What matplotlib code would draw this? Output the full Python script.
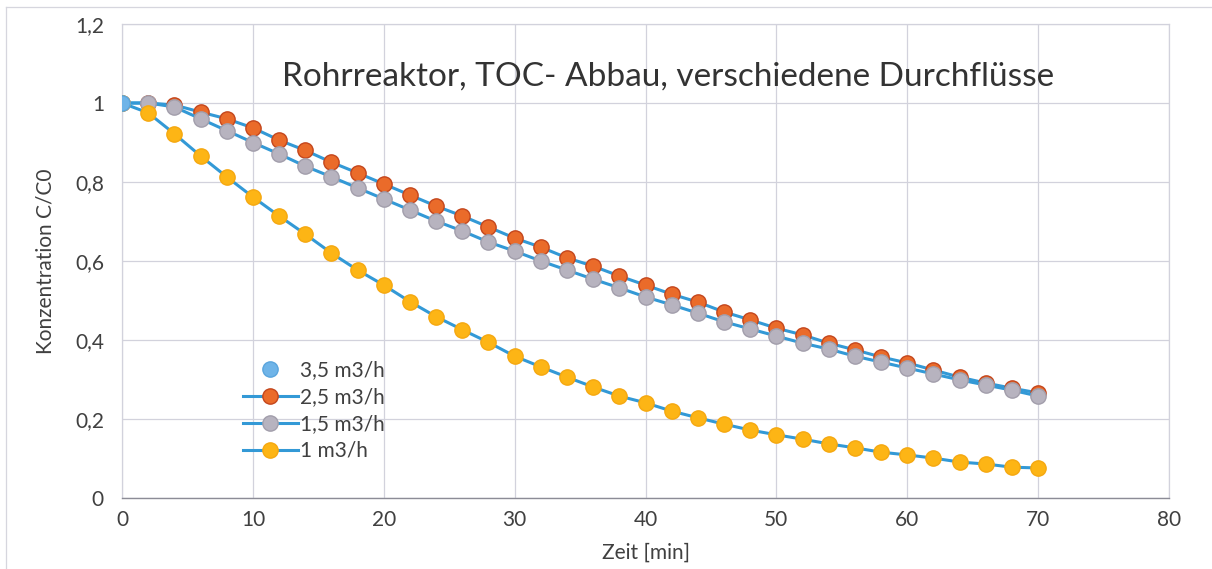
import matplotlib
matplotlib.use('agg')
import matplotlib.pyplot as plt
from matplotlib.lines import Line2D
from matplotlib.ticker import FuncFormatter, MultipleLocator

plt.rcParams['font.family'] = ['Lato', 'DejaVu Sans']

# Zeit in min, Messung alle 2 min
zeit = list(range(0, 72, 2))

# 3,5 m3/h: nur Startwert
zeit_35 = [0]
c_35 = [1.0]

c_25 = [1.0, 1.0, 0.995, 0.977, 0.96, 0.937, 0.906, 0.88, 0.85, 0.823, 0.795,
        0.767, 0.739, 0.714, 0.686, 0.658, 0.635, 0.608, 0.587, 0.562, 0.539,
        0.516, 0.496, 0.471, 0.451, 0.43, 0.413, 0.392, 0.375, 0.357, 0.342,
        0.324, 0.306, 0.291, 0.278, 0.266]

c_15 = [1.0, 1.0, 0.99, 0.96, 0.93, 0.90, 0.871, 0.84, 0.813, 0.785, 0.757,
        0.729, 0.701, 0.676, 0.648, 0.625, 0.60, 0.577, 0.554, 0.532, 0.509,
        0.489, 0.468, 0.446, 0.428, 0.41, 0.392, 0.377, 0.359, 0.344, 0.329,
        0.314, 0.299, 0.286, 0.273, 0.258]

c_1 = [1.0, 0.975, 0.922, 0.866, 0.813, 0.762, 0.714, 0.668, 0.62, 0.577, 0.539,
       0.497, 0.459, 0.426, 0.394, 0.359, 0.332, 0.306, 0.281, 0.258, 0.241,
       0.22, 0.203, 0.187, 0.172, 0.16, 0.149, 0.137, 0.127, 0.116, 0.109,
       0.101, 0.091, 0.086, 0.078, 0.076]

linie = '#3399d6'

fig = plt.figure(figsize=(12.12, 5.69), dpi=100)
ax = fig.add_axes([0.1007, 0.1248, 0.8638, 0.8330])

ax.plot(zeit, c_25, '-o', color=linie, lw=2.2, ms=11, mfc='#ea6b2a', mec='#c4461c',
        mew=1.0, label='2,5 m3/h', zorder=3)
ax.plot(zeit, c_15, '-o', color=linie, lw=2.2, ms=11, mfc='#b7b3bf', mec='#a29eab',
        mew=1.0, label='1,5 m3/h', zorder=3)
ax.plot(zeit, c_1, '-o', color=linie, lw=2.2, ms=11, mfc='#fdb515', mec='#f5a810',
        mew=1.0, label='1 m3/h', zorder=3)
ax.plot(zeit_35, c_35, 'o', ms=11, mfc='#6fb4e8', mec='#5aa5dd', mew=1.0,
        label='3,5 m3/h', zorder=4)

ax.set_xlim(0, 80)
ax.set_ylim(0, 1.2)
ax.xaxis.set_major_locator(MultipleLocator(10))
ax.yaxis.set_major_locator(MultipleLocator(0.2))
komma = FuncFormatter(lambda v, p: ('%g' % round(v, 2)).replace('.', ','))
ax.xaxis.set_major_formatter(komma)
ax.yaxis.set_major_formatter(komma)
ax.tick_params(length=0, labelsize=15, colors='#404040')
ax.tick_params(axis='y', pad=13)
ax.tick_params(axis='x', pad=9)

ax.grid(True, color='#d2d2dc', lw=0.9)
ax.set_axisbelow(True)
for s in ['top', 'right', 'left']:
    ax.spines[s].set_color('#d2d2dc')
    ax.spines[s].set_linewidth(0.9)
ax.spines['bottom'].set_color('#8c8c96')
ax.spines['bottom'].set_linewidth(1.0)

ax.set_xlabel('Zeit [min]', fontsize=15, color='#404040', labelpad=9)
ax.set_ylabel('Konzentration C/C0', fontsize=15, color='#404040', labelpad=14)

ax.text(0.522, 0.89, 'Rohrreaktor, TOC- Abbau, verschiedene Durchflüsse',
        transform=ax.transAxes, ha='center', va='center', fontsize=24, color='#333333')

handles, labels = ax.get_legend_handles_labels()
order = [3, 0, 1, 2]
ax.legend([handles[i] for i in order], [labels[i] for i in order],
          loc='upper left', bbox_to_anchor=(0.098, 0.33), frameon=False,
          fontsize=15, handlelength=2.6, handletextpad=0.1, labelspacing=0.33,
          labelcolor='#404040')

# Rahmen oben und links
fig.add_artist(Line2D([0.005, 1.0], [0.988, 0.988], color='#d6d6de', lw=0.9))
fig.add_artist(Line2D([0.005, 0.005], [0.0, 0.988], color='#d6d6de', lw=0.9))

fig.savefig('out.png', dpi=100)
